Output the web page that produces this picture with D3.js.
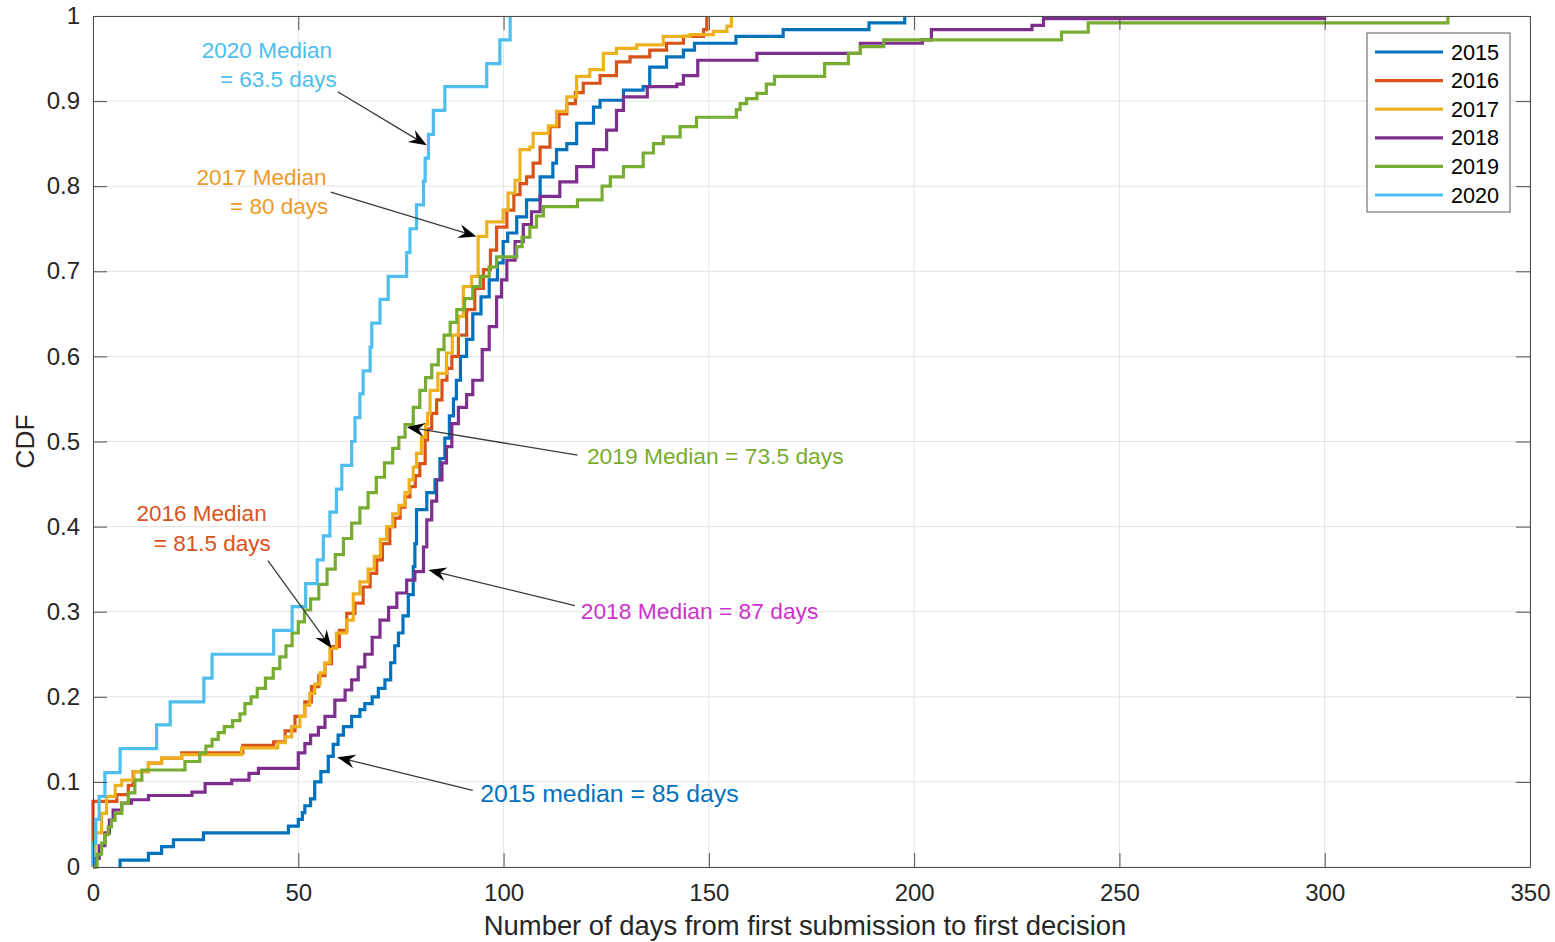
<!DOCTYPE html>
<html><head><meta charset="utf-8">
<script src="https://cdn.jsdelivr.net/npm/d3@7"></script>
<style>body{margin:0;background:#fff}text{font-family:"Liberation Sans",Arial,Helvetica,sans-serif}</style>
</head><body><svg id="c" width="1555" height="942"></svg>
<script>
// ---------- data (day, cumulative fraction) ----------
const years = ["2015","2016","2017","2018","2019","2020"];
const colors = ["#0072BD","#D95319","#EDB120","#7E2F8E","#77AC30","#4DBEEE"];

const cdf2015 = [[6.6,0],[6.6,0.008],[13.5,0.016],[16.7,0.024],[19.6,0.032],[26.9,0.040],[47.6,0.048],[50,0.056],[51,0.064],[51.6,0.072],[53,0.08],[54,0.1],[55.5,0.112],[57.3,0.13],[58.5,0.144],[59.7,0.155],[61,0.165],[63,0.177],[65,0.185],[66.2,0.192],[68,0.2],[69.5,0.21],[71.1,0.22],[72.5,0.24],[73.5,0.26],[74.4,0.275],[75.5,0.295],[76.8,0.32],[78,0.353],[78.4,0.38],[78.8,0.42],[81.3,0.44],[83.3,0.455],[84.5,0.48],[85.7,0.504],[86.8,0.53],[87.8,0.55],[88.5,0.572],[89.5,0.6],[91,0.62],[92.5,0.65],[94.5,0.67],[96.5,0.69],[98.5,0.71],[99.9,0.735],[101,0.745],[103.2,0.764],[105.6,0.784],[108.9,0.811],[112,0.827],[112.9,0.843],[115.4,0.85],[117.8,0.874],[121.9,0.893],[123.5,0.901],[129.2,0.913],[134,0.917],[135.6,0.94],[139.7,0.952],[143.8,0.96],[146.5,0.968],[156.6,0.976],[168.1,0.984],[189,0.992],[197.7,1.0]];

const cdf2016 = [[0,0],[0,0.077],[5.8,0.085],[8.6,0.096],[9.8,0.112],[13.5,0.122],[16.7,0.128],[21.6,0.134],[36.5,0.143],[44,0.147],[46.8,0.16],[49.2,0.177],[51.6,0.194],[53.2,0.212],[55,0.225],[56.5,0.239],[58.1,0.259],[60,0.278],[61.8,0.298],[63.8,0.31],[65.8,0.329],[67.5,0.345],[69.1,0.361],[70.5,0.38],[72.3,0.4],[73.5,0.41],[74.8,0.423],[76,0.435],[77.2,0.447],[78.5,0.46],[79.6,0.474],[80.9,0.502],[81.5,0.515],[82.5,0.533],[83.7,0.549],[85,0.572],[86.2,0.586],[87.4,0.6],[89,0.625],[91,0.655],[93,0.68],[95.1,0.702],[96.8,0.725],[98.3,0.752],[100.8,0.772],[102.5,0.79],[104,0.803],[105.6,0.811],[107.2,0.827],[108.9,0.846],[111.3,0.87],[113.5,0.885],[115.4,0.897],[117.5,0.91],[119.4,0.921],[123.5,0.93],[127.5,0.946],[130.8,0.952],[135.6,0.96],[139.7,0.968],[143.8,0.976],[148.7,0.984],[149.5,1.0]];

const cdf2017 = [[0,0],[0.5,0.04],[2.1,0.063],[3.3,0.083],[5.4,0.096],[7,0.102],[10,0.112],[13.5,0.122],[16.7,0.128],[21.6,0.132],[36.2,0.14],[45,0.146],[46.8,0.153],[48.4,0.165],[50.4,0.177],[51.5,0.19],[52.8,0.204],[54,0.215],[55.3,0.228],[56.5,0.24],[57.7,0.257],[59.3,0.275],[61.8,0.29],[63.4,0.321],[65,0.335],[67,0.35],[68.5,0.365],[70,0.385],[71.5,0.4],[73,0.415],[74.5,0.425],[76,0.44],[77,0.455],[78,0.47],[78.8,0.486],[80,0.505],[81,0.52],[81.5,0.533],[82.1,0.56],[84,0.58],[86.1,0.604],[87.5,0.625],[89,0.647],[90.2,0.682],[92.2,0.694],[93.8,0.741],[95.9,0.758],[99.9,0.772],[101.1,0.792],[102.8,0.807],[104,0.843],[106.4,0.846],[107.2,0.862],[110.9,0.871],[112.9,0.888],[115.4,0.905],[117.8,0.929],[121,0.937],[124.3,0.956],[127.5,0.962],[132.4,0.966],[138.9,0.976],[145.4,0.978],[151.1,0.982],[154.4,0.988],[155.5,1.0]];

const cdf2018 = [[0,0],[0.5,0.01],[1.5,0.025],[2.9,0.04],[4,0.055],[4.9,0.067],[7,0.075],[9.4,0.079],[13.5,0.084],[24.1,0.088],[27.3,0.098],[33.8,0.102],[38,0.11],[40.3,0.116],[50,0.134],[51.6,0.145],[53,0.155],[54.9,0.164],[56.5,0.177],[58.9,0.196],[61.4,0.208],[63,0.22],[64.6,0.235],[66.2,0.25],[68,0.27],[69.9,0.29],[72,0.305],[74,0.322],[76.4,0.337],[78.4,0.347],[80.5,0.376],[81.3,0.408],[82.5,0.43],[83.7,0.455],[85,0.475],[86.1,0.494],[87.4,0.521],[89,0.54],[91,0.555],[92.5,0.572],[94.8,0.608],[96.5,0.635],[98.3,0.67],[99.5,0.69],[100.8,0.713],[102.8,0.735],[104.8,0.755],[106.8,0.77],[108.9,0.788],[113.7,0.805],[117.8,0.823],[121.9,0.843],[125.1,0.866],[127.5,0.889],[129.2,0.905],[135,0.917],[142.2,0.92],[143.8,0.93],[147.3,0.948],[161.7,0.956],[186.9,0.968],[202,0.972],[204.2,0.984],[228.7,0.989],[231.5,0.997],[300,1.0]];

const cdf2019 = [[0,0],[1,0.015],[2.1,0.028],[3,0.038],[3.7,0.047],[4.5,0.055],[5.4,0.063],[7,0.075],[8.6,0.087],[10.2,0.102],[11.9,0.114],[22.4,0.124],[26,0.134],[27.5,0.142],[29,0.15],[30.5,0.158],[32,0.165],[34,0.172],[35.8,0.18],[37,0.192],[38.5,0.2],[40,0.21],[42,0.222],[43.9,0.233],[45.5,0.247],[47,0.26],[48.5,0.275],[50,0.288],[51.5,0.302],[53,0.315],[55,0.332],[57,0.35],[59,0.367],[61,0.386],[63,0.404],[65,0.422],[67,0.44],[69,0.458],[71,0.475],[73,0.492],[74.5,0.505],[76,0.52],[78,0.54],[79.6,0.56],[81,0.575],[82.5,0.59],[84.1,0.608],[85.5,0.625],[87,0.64],[88.6,0.655],[90.5,0.668],[92.5,0.682],[94.3,0.694],[96.5,0.705],[98.3,0.717],[103.2,0.729],[104.5,0.74],[106.4,0.752],[108,0.765],[109.7,0.776],[118,0.784],[124,0.8],[126,0.811],[129.2,0.823],[134,0.839],[136.5,0.85],[138.9,0.858],[143,0.87],[147,0.881],[156.7,0.89],[157.6,0.897],[159.2,0.903],[161.7,0.909],[164,0.92],[166,0.929],[178.2,0.944],[184,0.956],[186.9,0.964],[192.6,0.972],[235.9,0.981],[242.4,0.992],[330,1.0]];

const cdf2020 = [[0,0],[0,0.028],[0.7,0.056],[1.5,0.083],[2.9,0.111],[6.6,0.139],[15.5,0.167],[18.8,0.194],[27,0.222],[29,0.25],[44,0.278],[48.5,0.306],[51.8,0.333],[54.6,0.361],[56.1,0.389],[57.7,0.417],[59.3,0.444],[60.6,0.472],[63,0.5],[63.8,0.528],[65,0.556],[65.8,0.583],[67.5,0.611],[67.9,0.639],[69.9,0.667],[71.9,0.694],[76.4,0.722],[77.2,0.75],[78.8,0.778],[80.5,0.806],[80.9,0.833],[81.7,0.861],[82.9,0.889],[85.7,0.917],[95.9,0.944],[99.1,0.972],[101.6,1.0]];

const seriesData = [cdf2015, cdf2016, cdf2017, cdf2018, cdf2019, cdf2020];

const xTicks = [0,50,100,150,200,250,300,350];
const yTicks = [0,0.1,0.2,0.3,0.4,0.5,0.6,0.7,0.8,0.9,1];
const yTickLabels = ["0","0.1","0.2","0.3","0.4","0.5","0.6","0.7","0.8","0.9","1"];
const xLabel = "Number of days from first submission to first decision";
const yLabel = "CDF";

// annotations: text lines (anchor in data coords), arrow tail -> tip (data coords)
const annotText = [
  {t:"2020 Median", at:[58.2,0.960], anchor:"end", c:"#4DBEEE", s:22.5},
  {t:"= 63.5 days", at:[59.4,0.926], anchor:"end", c:"#4DBEEE", s:22.5},
  {t:"2017 Median", at:[56.9,0.811], anchor:"end", c:"#EE9A26", s:22.5},
  {t:"= 80 days", at:[57.3,0.776], anchor:"end", c:"#EE9A26", s:22.5},
  {t:"2019 Median = 73.5 days", at:[120.3,0.483], anchor:"start", c:"#77AC30", s:22.8},
  {t:"2016 Median", at:[42.3,0.416], anchor:"end", c:"#D95319", s:22.5},
  {t:"= 81.5 days", at:[43.3,0.381], anchor:"end", c:"#D95319", s:22.5},
  {t:"2018 Median = 87 days", at:[118.8,0.301], anchor:"start", c:"#CC33CC", s:22.8},
  {t:"2015 median = 85 days", at:[94.3,0.087], anchor:"start", c:"#0072BD", s:24.8}
];
const annotArrows = [
  {from:[59.6,0.911], to:[81.3,0.848]},
  {from:[57.9,0.793], to:[93.4,0.741]},
  {from:[118.0,0.484], to:[76.4,0.517]},
  {from:[42.6,0.360], to:[58.1,0.257]},
  {from:[117.4,0.307], to:[81.7,0.349]},
  {from:[92.5,0.090], to:[59.5,0.129]}
];

// ---------- drawing ----------
const svg = d3.select("#c");
const X0=93, X1=1530, Y0=16, Y1=867;
const x = d3.scaleLinear().domain([0,350]).range([X0,X1]);
const y = d3.scaleLinear().domain([0,1]).range([Y1,Y0]);

// grid
const grid = svg.append("g").attr("stroke","#e4e4e4").attr("stroke-width",1);
grid.selectAll("line.gx").data(xTicks).join("line").attr("class","gx")
  .attr("x1",d=>x(d)).attr("x2",d=>x(d)).attr("y1",Y0).attr("y2",Y1);
grid.selectAll("line.gy").data(yTicks).join("line").attr("class","gy")
  .attr("y1",d=>y(d)).attr("y2",d=>y(d)).attr("x1",X0).attr("x2",X1);

// series
const line = d3.line().x(d=>x(d[0])).y(d=>y(d[1])).curve(d3.curveStepAfter);
const plot = svg.append("g");
seriesData.forEach((s,i)=>{
  plot.append("path").datum(s).attr("d",line).attr("fill","none")
    .attr("stroke",colors[i]).attr("stroke-width",3.2).attr("stroke-linejoin","miter");
});

// axes
const axColor="#4d4d4d", tickLen=14;
function styleAxis(g, showText){
  g.select(".domain").attr("stroke",axColor).attr("stroke-width",1);
  g.selectAll(".tick line").attr("stroke",axColor).attr("stroke-width",1);
  g.selectAll(".tick text").attr("fill","#262626").style("font-size","24px")
    .style("font-family","'Liberation Sans',Arial,sans-serif");
  if(!showText) g.selectAll(".tick text").remove();
}
const xb = svg.append("g").attr("transform",`translate(0,${Y1})`)
  .call(d3.axisBottom(x).tickValues(xTicks).tickFormat(d3.format("d")).tickSizeInner(-tickLen).tickSizeOuter(0).tickPadding(17));
styleAxis(xb,true);
const xt = svg.append("g").attr("transform",`translate(0,${Y0})`)
  .call(d3.axisTop(x).tickValues(xTicks).tickSizeInner(-tickLen).tickSizeOuter(0));
styleAxis(xt,false);
const yl = svg.append("g").attr("transform",`translate(${X0},0)`)
  .call(d3.axisLeft(y).tickValues(yTicks).tickFormat((d,i)=>yTickLabels[i]).tickSizeInner(-tickLen).tickSizeOuter(0).tickPadding(13));
styleAxis(yl,true);
const yr = svg.append("g").attr("transform",`translate(${X1},0)`)
  .call(d3.axisRight(y).tickValues(yTicks).tickSizeInner(-tickLen).tickSizeOuter(0));
styleAxis(yr,false);

// axis labels
svg.append("text").attr("x",805).attr("y",935).attr("text-anchor","middle")
  .attr("fill","#262626").style("font-size","27.4px").text(xLabel);
svg.append("text").attr("transform",`translate(34,${(Y0+Y1)/2}) rotate(-90)`).attr("text-anchor","middle")
  .attr("fill","#262626").style("font-size","26.4px").text(yLabel);

// annotations
const ann = svg.append("g");
annotArrows.forEach(a=>{
  const x1=x(a.from[0]), y1=y(a.from[1]), x2=x(a.to[0]), y2=y(a.to[1]);
  const dx=x2-x1, dy=y2-y1, L=Math.hypot(dx,dy), ux=dx/L, uy=dy/L, px=-uy, py=ux;
  const hl=18, hw=7, notch=12;
  ann.append("line").attr("x1",x1).attr("y1",y1).attr("x2",x2-ux*notch).attr("y2",y2-uy*notch)
    .attr("stroke","#3a3a3a").attr("stroke-width",1.3);
  const pts=[[x2,y2],[x2-ux*hl+px*hw,y2-uy*hl+py*hw],[x2-ux*notch,y2-uy*notch],[x2-ux*hl-px*hw,y2-uy*hl-py*hw]];
  ann.append("path").attr("d","M"+pts.map(p=>p.join(",")).join("L")+"Z").attr("fill","#000");
});
annotText.forEach(a=>{
  ann.append("text").attr("x",x(a.at[0])).attr("y",y(a.at[1])).attr("dy","0.35em")
    .attr("text-anchor",a.anchor).attr("fill",a.c).style("font-size",a.s+"px").text(a.t);
});

// legend
const LX=1367, LY=33, LW=143, LH=179;
const leg = svg.append("g");
leg.append("rect").attr("x",LX).attr("y",LY).attr("width",LW).attr("height",LH)
  .attr("fill","#fff").attr("stroke","#5a5a5a").attr("stroke-width",1);
years.forEach((yr,i)=>{
  const cy = LY+19+i*28.6;
  leg.append("line").attr("x1",LX+8).attr("x2",LX+76).attr("y1",cy).attr("y2",cy)
    .attr("stroke",colors[i]).attr("stroke-width",3.2);
  leg.append("text").attr("x",LX+84).attr("y",cy).attr("dy","0.35em")
    .attr("fill","#000").style("font-size","21.6px").text(yr);
});
</script></body></html>
